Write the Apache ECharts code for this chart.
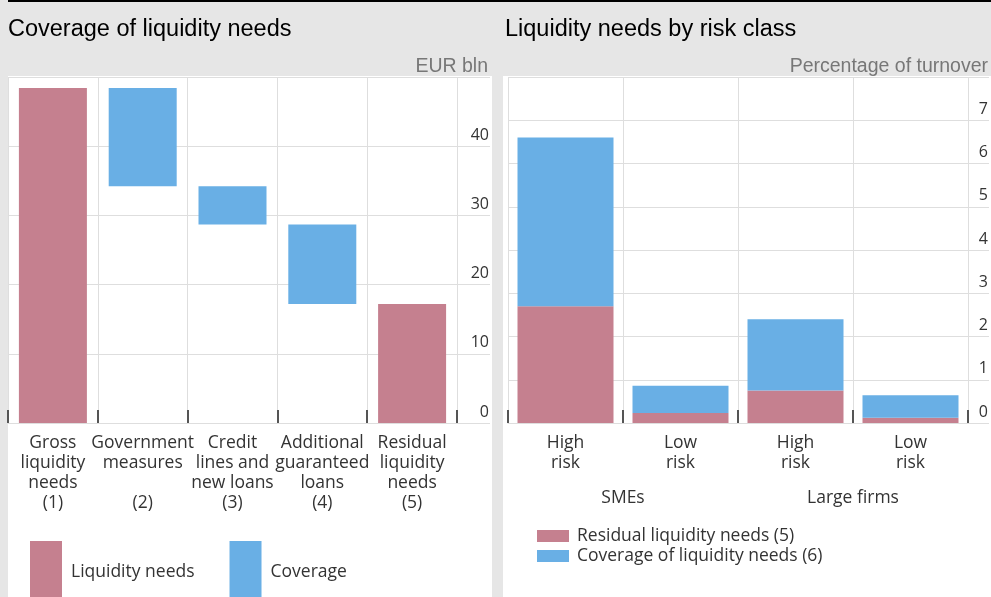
<!DOCTYPE html>
<html>
<head>
<meta charset="utf-8">
<script src="https://cdn.jsdelivr.net/npm/echarts@6/dist/echarts.min.js"></script>
<style>
  html, body { margin: 0; padding: 0; background: #e6e6e6; }
  #main { width: 991px; height: 597px; }
</style>
</head>
<body>
<div id="main"></div>
<script>
// left panel: waterfall of liquidity needs, EUR bln
const coverCats = [
  'Gross\nliquidity\nneeds\n(1)',
  'Government\nmeasures\n\n(2)',
  'Credit\nlines and\nnew loans\n(3)',
  'Additional\nguaranteed\nloans\n(4)',
  'Residual\nliquidity\nneeds\n(5)'
]
const needsValues = [48.4, null, null, null, 17.2]
const coverageValues = [null, 14.2, 5.5, 11.5, null]
const coverTicks = [0, 10, 20, 30, 40, 50]

// right panel: percentage of turnover
const riskCats = ['High\nrisk', 'Low\nrisk', 'High\nrisk', 'Low\nrisk']
const firmGroups = ['SMEs', 'Large firms']
const residualNeeds = [2.7, 0.23, 0.75, 0.12]
const coverageNeeds = [3.9, 0.63, 1.65, 0.52]
const riskTicks = [0, 1, 2, 3, 4, 5, 6, 7, 8]

// invisible base so coverage bars float
let running = needsValues[0]
const baseValues = coverageValues.map(function(v) {
  if (v == null) return 0
  running -= v
  return running
})

const PINK = '#c5808f'
const BLUE = '#69afe5'
const GRID = '#dedede'
const FONT = '"Open Sans", sans-serif'

const chart = echarts.init(document.getElementById('main'))

const catAxis = function(gridIndex, data) {
  return {
    type: 'category',
    gridIndex: gridIndex,
    data: data,
    axisLine: { show: true, lineStyle: { color: GRID } },
    axisTick: { show: true, inside: true, length: 13, lineStyle: { color: '#555', width: 2 } },
    splitLine: { show: true, lineStyle: { color: GRID } },
    axisLabel: { color: '#333', fontFamily: FONT, fontSize: 17.5, lineHeight: 20, margin: 10, interval: 0 }
  }
}
const valAxis = function(gridIndex, max, interval, labels) {
  return {
    type: 'value',
    gridIndex: gridIndex,
    position: 'right',
    min: 0,
    max: max,
    interval: interval,
    axisLine: { show: false },
    axisTick: { show: false },
    splitLine: { show: true, lineStyle: { color: GRID } },
    axisLabel: {
      show: labels,
      inside: true,
      margin: 1,
      showMaxLabel: false,
      verticalAlign: 'bottom',
      padding: [0, 0, 3, 0],
      color: '#333',
      fontFamily: FONT,
      fontSize: 16
    }
  }
}

chart.setOption({
  animation: false,
  backgroundColor: '#e6e6e6',
  graphic: [
    { type: 'rect', z: -10, shape: { x: 8, y: 0, width: 983, height: 2 }, style: { fill: '#000' } },
    { type: 'rect', z: -10, shape: { x: 8, y: 76, width: 484, height: 521 }, style: { fill: '#fff' } },
    { type: 'rect', z: -10, shape: { x: 503, y: 76, width: 488, height: 521 }, style: { fill: '#fff' } }
  ],
  title: [
    { text: 'Coverage of liquidity needs', left: 3, top: 13, textStyle: { fontFamily: 'Liberation Sans', fontSize: 23.5, fontWeight: 'normal', color: '#000' } },
    { text: 'EUR bln', right: 498, top: 52, textStyle: { fontFamily: 'Liberation Sans', fontSize: 19.5, fontWeight: 'normal', color: '#777' } },
    { text: 'Liquidity needs by risk class', left: 500, top: 13, textStyle: { fontFamily: 'Liberation Sans', fontSize: 23.5, fontWeight: 'normal', color: '#000' } },
    { text: 'Percentage of turnover', right: -2, top: 52, textStyle: { fontFamily: 'Liberation Sans', fontSize: 19.5, fontWeight: 'normal', color: '#777' } }
  ],
  legend: [
    {
      data: ['Liquidity needs', 'Coverage'],
      left: 25, top: 536,
      itemWidth: 32, itemHeight: 62, itemGap: 35,
      icon: 'rect',
      textStyle: { fontFamily: FONT, fontSize: 17.5, color: '#333', padding: [0, 0, 0, 4] }
    },
    {
      data: ['Residual liquidity needs (5)', 'Coverage of liquidity needs (6)'],
      left: 532, top: 522, orient: 'vertical',
      itemWidth: 32, itemHeight: 12, itemGap: 2,
      icon: 'rect',
      textStyle: { fontFamily: FONT, fontSize: 17.5, color: '#333', padding: [0, 0, 0, 3] }
    }
  ],
  grid: [
    { left: 8, right: 534, top: 77, bottom: 174 },
    { left: 457, right: 501, top: 77, bottom: 174 },
    { left: 508, right: 23, top: 77, bottom: 174 },
    { left: 968, right: 0, top: 77, bottom: 174 }
  ],
  xAxis: [
    catAxis(0, coverCats),
    { type: 'value', gridIndex: 1, show: false },
    catAxis(2, riskCats),
    { type: 'value', gridIndex: 3, show: false },
    {
      type: 'category',
      gridIndex: 2,
      data: firmGroups,
      position: 'bottom',
      axisLine: { show: false },
      axisTick: { show: false },
      splitLine: { show: false },
      axisLabel: { color: '#333', fontFamily: FONT, fontSize: 17.5, margin: 66 }
    }
  ],
  yAxis: [
    valAxis(0, coverTicks[coverTicks.length - 1], 10, false),
    valAxis(1, coverTicks[coverTicks.length - 1], 10, true),
    valAxis(2, riskTicks[riskTicks.length - 1], 1, false),
    valAxis(3, riskTicks[riskTicks.length - 1], 1, true)
  ],
  series: [
    {
      name: 'base', type: 'bar', stack: 'w', xAxisIndex: 0, yAxisIndex: 0,
      barWidth: 68, itemStyle: { color: 'transparent' }, data: baseValues, silent: true
    },
    {
      name: 'Liquidity needs', type: 'bar', stack: 'w', xAxisIndex: 0, yAxisIndex: 0,
      barWidth: 68, itemStyle: { color: PINK }, data: needsValues
    },
    {
      name: 'Coverage', type: 'bar', stack: 'w', xAxisIndex: 0, yAxisIndex: 0,
      barWidth: 68, itemStyle: { color: BLUE }, data: coverageValues
    },
    {
      name: 'Residual liquidity needs (5)', type: 'bar', stack: 'r', xAxisIndex: 2, yAxisIndex: 2,
      barWidth: 96, itemStyle: { color: PINK }, data: residualNeeds
    },
    {
      name: 'Coverage of liquidity needs (6)', type: 'bar', stack: 'r', xAxisIndex: 2, yAxisIndex: 2,
      barWidth: 96, itemStyle: { color: BLUE }, data: coverageNeeds
    }
  ]
})
</script>
</body>
</html>
